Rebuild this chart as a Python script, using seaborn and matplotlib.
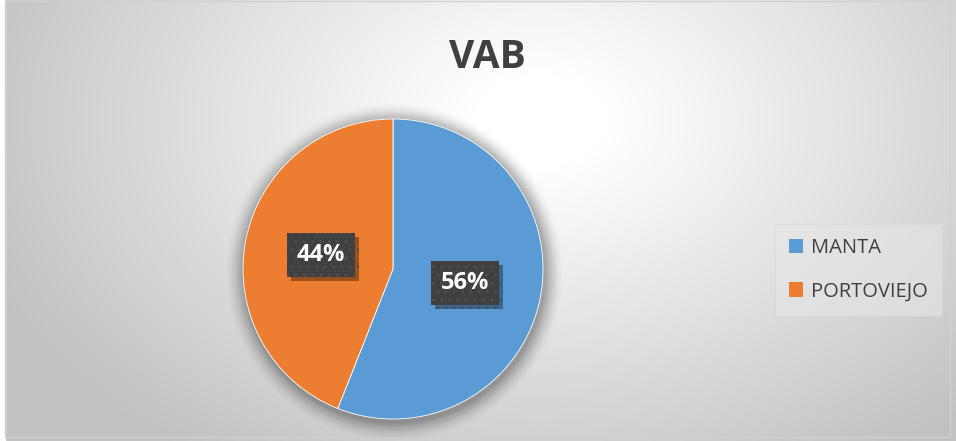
import numpy as np
import matplotlib
matplotlib.use("Agg")
import matplotlib.pyplot as plt
import matplotlib.patheffects as pe
from matplotlib.patches import Rectangle, Circle
import seaborn as sns

# data
municipios = ["MANTA", "PORTOVIEJO"]
vab_share = [56, 44]
colores = ["#5B9BD5", "#ED7D31"]
titulo = "VAB"

sns.set_theme(style="white")
plt.rcParams["font.family"] = ["Open Sans", "DejaVu Sans"]
palette = sns.color_palette(colores)

W, H = 956, 441
fig = plt.figure(figsize=(W / 100, H / 100), dpi=100)
fig.patch.set_facecolor("white")

# radial gradient background (Excel style)
bg = fig.add_axes([0, 0, 1, 1])
bg.set_axis_off()
yy, xx = np.mgrid[0:H, 0:W]
t = np.sqrt(((xx - 540) / 560.0) ** 2 + ((yy - 120) / 380.0) ** 2)
t = np.clip((t - 0.12) / 0.95, 0, 1)
lo = np.array([1.0, 1.0, 1.0])
hi = np.array([0.76, 0.76, 0.76])
img = lo[None, None, :] * (1 - t[..., None]) + hi[None, None, :] * t[..., None]
bg.imshow(img, extent=[0, W, H, 0], aspect="auto")
bg.set_xlim(0, W)
bg.set_ylim(H, 0)
bg.add_patch(Rectangle((0, 0), 5, H, color="white", zorder=3))
bg.add_patch(Rectangle((5.5, 0.5), 945, 436, fill=False, ec="#d0d0d0", lw=1, zorder=3))

# pie
cx, cy, r = 393, 269, 150
ax = fig.add_axes([(cx - r) / W, (H - cy - r) / H, 2 * r / W, 2 * r / H])
ax.set_axis_off()

# soft shadow under the pie
for k, a in zip(range(10), np.linspace(0.06, 0.01, 10)):
    ax.add_patch(Circle((0.01, -0.02), 1.0 + 0.012 * (k + 1), color="black",
                        alpha=a, lw=0, zorder=0, clip_on=False))

wedges, _, autotexts = ax.pie(
    vab_share, colors=palette, startangle=90, counterclock=False,
    autopct="%1.0f%%", pctdistance=0.49, radius=1.0,
    wedgeprops=dict(linewidth=0.6, edgecolor="white"),
    textprops=dict(color="white", fontsize=17, fontweight="bold"),
)
ax.set_xlim(-1, 1)
ax.set_ylim(-1, 1)
ax.set_aspect("equal")

for txt in autotexts:
    txt.set_zorder(5)
    txt.set_bbox(dict(boxstyle="square,pad=0.42", facecolor="#404040",
                      edgecolor="#4e4e4e", hatch="..", linewidth=0))
    txt.get_bbox_patch().set_path_effects([
        pe.SimplePatchShadow(offset=(3, -3), shadow_rgbFace="black", alpha=0.35),
        pe.Normal(),
    ])

fig.text(487 / W, 1 - 58 / H, titulo, ha="center", va="center",
         fontsize=28, fontweight="bold", color="#404040")

leg = fig.legend(wedges, municipios, loc="center left",
                 bbox_to_anchor=(775 / W, 1 - 270 / H),
                 frameon=True, fancybox=False, fontsize=14.5,
                 labelcolor="#404040", handlelength=0.7, handleheight=0.7,
                 handletextpad=0.4, labelspacing=1.15, borderpad=0.7,
                 borderaxespad=0)
frame = leg.get_frame()
frame.set_facecolor("#e6e6e6")
frame.set_alpha(0.6)
frame.set_edgecolor("#d8d8d8")
frame.set_linewidth(0.8)
for h in leg.legend_handles:
    h.set_edgecolor("none")

fig.savefig("out.png", dpi=100)
